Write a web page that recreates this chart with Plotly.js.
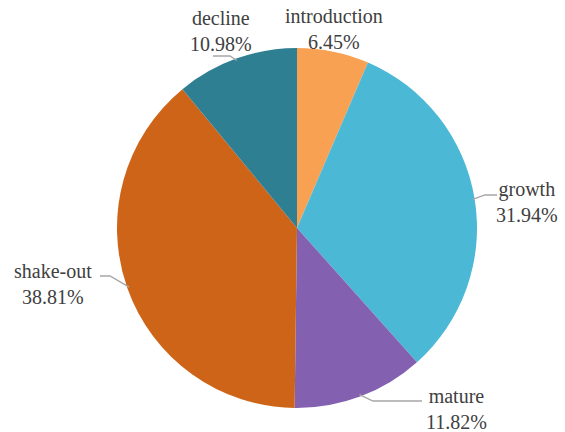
<!DOCTYPE html>
<html>
<head>
<meta charset="utf-8">
<script src="https://cdn.plot.ly/plotly-3.0.1.min.js"></script>
<style>
html,body{margin:0;padding:0;background:#fff;}
#chart{width:565px;height:432px;}
</style>
</head>
<body>
<div id="chart"></div>
<script>
const stages = ["introduction", "growth", "mature", "shake-out", "decline"];
const shares = [6.45, 31.94, 11.82, 38.81, 10.98];
const colors = ["#F9A153", "#4BB8D6", "#8461B0", "#CD6418", "#2F7F93"];

const W = 565, H = 432;
const cx = 297, cy = 228, R = 180;
const FONT = "serif";

// label placement (pixels): label block centre, plus leader elbow/end (null = no leader)
const labelPos = [
  {x: 334, y: 29, leader: null},
  {x: 527, y: 202, leader: [[485, 195], [497, 195]]},
  {x: 456, y: 409, leader: [[373, 401], [422, 401]]},
  {x: 53, y: 284, leader: [[110, 276], [100, 276]]},
  {x: 221, y: 31, leader: [[230, 56], [213, 56]]}
];

const px = x => x / W;
const py = y => 1 - y / H;

const total = shares.reduce((a, b) => a + b, 0);
let cum = 0;
const annotations = [];
const shapes = [];
shares.forEach((v, i) => {
  const mid = (cum + v / 2) / total * 2 * Math.PI;
  cum += v;
  const ex = cx + (R - 2) * Math.sin(mid);
  const ey = cy - (R - 2) * Math.cos(mid);
  const lp = labelPos[i];
  annotations.push({
    xref: "paper", yref: "paper",
    x: px(lp.x), y: py(lp.y),
    xanchor: "center", yanchor: "middle",
    text: stages[i] + "<br>" + v.toFixed(2) + "%",
    showarrow: false,
    font: {family: FONT, size: 20, color: "#404040"}
  });
  if (lp.leader) {
    const pts = [[ex, ey]].concat(lp.leader);
    const path = pts.map((p, k) => (k === 0 ? "M" : "L") + px(p[0]) + "," + py(p[1])).join(" ");
    shapes.push({type: "path", xref: "paper", yref: "paper", path: path,
      line: {color: "#A6A6A6", width: 1.3}});
  }
});

const data = [{
  type: "pie",
  labels: stages,
  values: shares,
  sort: false,
  direction: "clockwise",
  rotation: 0,
  textinfo: "none",
  marker: {colors: colors, line: {width: 0}},
  domain: {x: [px(cx - R), px(cx + R)], y: [py(cy + R), py(cy - R)]},
  showlegend: false
}];

const layout = {
  width: W, height: H,
  margin: {l: 0, r: 0, t: 0, b: 0},
  paper_bgcolor: "#ffffff",
  font: {family: FONT},
  showlegend: false,
  annotations: annotations,
  shapes: shapes
};

Plotly.newPlot("chart", data, layout, {displayModeBar: false, staticPlot: true});
</script>
</body>
</html>
